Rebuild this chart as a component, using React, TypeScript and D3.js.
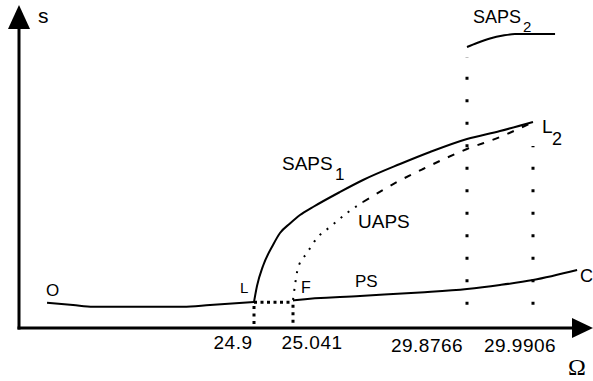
import * as d3 from "d3";

// axis ticks (schematic, non-uniform Ω axis)
const OMEGA_BREAKS = [23.5, 24.9, 25.041, 29.8766, 29.9906, 30.094];
const OMEGA_TICKS = [24.9, 25.041, 29.8766, 29.9906];
const TICK_LABELS = ["24.9", "25.041", "29.8766", "29.9906"];

// branches as [Ω, s]
const PS_LEFT: [number, number][] = [
  [23.667, 0.0783], [23.822, 0.0712], [23.941, 0.0659], [24.221, 0.0659],
  [24.477, 0.0659], [24.638, 0.0712], [24.9, 0.0805],
];
const PS_RIGHT: [number, number][] = [
  [25.041, 0.0851], [25.152, 0.0867], [26.903, 0.0991], [28.571, 0.11],
  [29.8766, 0.1207], [29.9336, 0.1331], [29.9906, 0.1486], [30.0666, 0.1796],
];
const SAPS1: [number, number][] = [
  [24.9, 0.0805], [24.9108, 0.13], [24.9325, 0.192], [24.9687, 0.257],
  [24.994, 0.294], [25.03, 0.3235], [25.2356, 0.3498], [25.597, 0.3746],
  [26.347, 0.4211], [26.987, 0.4582], [28.015, 0.5077], [28.849, 0.5449],
  [29.8766, 0.5851], [29.9336, 0.6099], [29.9906, 0.6378],
];
const UAPS_DOTTED: [number, number][] = [
  [25.041, 0.0867], [25.0966, 0.1331], [25.18, 0.1858], [25.43, 0.2322],
  [25.708, 0.2786], [26.069, 0.3127], [26.542, 0.356], [26.987, 0.3901],
];
const UAPS_DASHED: [number, number][] = [
  [26.987, 0.3901], [27.932, 0.452], [28.654, 0.4923], [29.8766, 0.5542],
  [29.9336, 0.5913], [29.9906, 0.6378],
];
const SAPS2: [number, number][] = [
  [29.8766, 0.87], [29.8939, 0.8824], [29.9163, 0.8963], [29.9388, 0.9056],
  [29.9595, 0.9102], [30.0286, 0.9102],
];
const UNSTABLE_PS: [number, number][] = [[24.9, 0.08], [25.041, 0.08]];
// vertical guide lines: [Ω, sFrom, sTo]
const GUIDES_LONG: [number, number, number][] = [
  [29.8766, 0.072, 0.839],
  [29.9906, 0.072, 0.5635],
];
const GUIDES_SHORT: [number, number, number][] = [
  [24.9, 0.068, 0.0],
  [25.041, 0.072, 0.0],
];

// layout offsets for the tick labels
const TICK_DX = [-21, 19, -40, -13];
const TICK_BASE = [349, 349, 352, 352];

const W = 593;
const H = 381;
const FONT = "'Liberation Sans', Arial, sans-serif";

export default function App() {
  const x = d3
    .scaleLinear()
    .domain(OMEGA_BREAKS)
    .range([19, 254, 293, 467, 533, 593]);
  const y = d3.scaleLinear().domain([0, 1]).range([328, 5]);

  const smooth = d3
    .line<[number, number]>()
    .x((d) => x(d[0]))
    .y((d) => y(d[1]))
    .curve(d3.curveMonotoneX);
  const straight = d3
    .line<[number, number]>()
    .x((d) => x(d[0]))
    .y((d) => y(d[1]));

  const x0 = x.range()[0];
  const xEnd = x.range()[x.range().length - 1];
  const y0 = y(0);
  const yTop = y(1);

  const lbl = (p: [number, number]) => [x(p[0]), y(p[1])];
  const [oX, oY] = lbl(PS_LEFT[0]);
  const [lX, lY] = lbl(SAPS1[0]);
  const [fX, fY] = lbl(UAPS_DOTTED[0]);
  const [cX, cY] = lbl(PS_RIGHT[PS_RIGHT.length - 1]);
  const [l2X, l2Y] = lbl(SAPS1[SAPS1.length - 1]);
  const [s2X, s2Y] = lbl(SAPS2[0]);

  return (
    <svg
      width={W}
      height={H}
      style={{ position: "absolute", left: 0, top: 0, background: "#fff" }}
      fontFamily={FONT}
    >
      {/* axes */}
      <line x1={x0 - 1.5} y1={y0} x2={xEnd - 18} y2={y0} stroke="#000" strokeWidth={3} />
      <path d={`M${xEnd},${y0} L${xEnd - 21},${y0 - 10} L${xEnd - 21},${y0 + 10} Z`} fill="#000" />
      <line x1={x0} y1={y0 + 1.5} x2={x0} y2={yTop + 20} stroke="#000" strokeWidth={3} />
      <path d={`M${x0},${yTop} L${x0 - 11},${yTop + 24} L${x0 + 11},${yTop + 24} Z`} fill="#000" />

      {/* guide lines */}
      {GUIDES_LONG.map(([o, a, b], i) => (
        <line key={"gl" + i} x1={x(o)} x2={x(o)} y1={y(a)} y2={y(b)}
          stroke="#000" strokeWidth={3} strokeDasharray="3 19.5" />
      ))}
      {GUIDES_SHORT.map(([o, a, b], i) => (
        <line key={"gs" + i} x1={x(o)} x2={x(o)} y1={y(a)} y2={y(b)}
          stroke="#000" strokeWidth={3} strokeDasharray="3 4.5" />
      ))}
      <path d={straight(UNSTABLE_PS) ?? ""} fill="none" stroke="#000" strokeWidth={3} strokeDasharray="3 3.5" />

      {/* branches */}
      <path d={smooth(PS_LEFT) ?? ""} fill="none" stroke="#000" strokeWidth={2} />
      <path d={smooth(PS_RIGHT) ?? ""} fill="none" stroke="#000" strokeWidth={2} />
      <path d={smooth(SAPS1) ?? ""} fill="none" stroke="#000" strokeWidth={2} />
      <path d={smooth(UAPS_DOTTED) ?? ""} fill="none" stroke="#000" strokeWidth={2} strokeDasharray="2 7" />
      <path d={smooth(UAPS_DASHED) ?? ""} fill="none" stroke="#000" strokeWidth={2} strokeDasharray="7 9" />
      <path d={smooth(SAPS2) ?? ""} fill="none" stroke="#000" strokeWidth={2} />

      {/* tick labels */}
      {OMEGA_TICKS.map((t, i) => (
        <text key={"t" + i} x={x(t) + TICK_DX[i]} y={TICK_BASE[i]} textAnchor="middle"
          fontSize={19} letterSpacing={0.5} fill="#000">
          {TICK_LABELS[i]}
        </text>
      ))}

      {/* axis titles */}
      <text x={x0 + 19} y={yTop + 18} fontSize={21} fill="#000">s</text>
      <text x={xEnd - 16} y={y0 + 47} fontSize={24} textAnchor="middle"
        fontFamily="'Liberation Serif', 'Times New Roman', serif" fill="#000">Ω</text>

      {/* point / branch labels */}
      <text x={oX - 1} y={oY - 7} fontSize={17} fill="#000">O</text>
      <text x={lX - 14} y={lY - 9} fontSize={15} fill="#000">L</text>
      <text x={fX + 8} y={fY - 7} fontSize={16} fill="#000">F</text>
      <text x={cX + 3} y={cY + 12} fontSize={18} fill="#000">C</text>
      <text x={355} y={287} fontSize={17} fill="#000">PS</text>
      <text x={282} y={170} fontSize={19} fill="#000">SAPS</text>
      <text x={335} y={180} fontSize={17} fill="#000">1</text>
      <text x={358} y={228} fontSize={19} fill="#000">UAPS</text>
      <text x={s2X + 6} y={s2Y - 24} fontSize={18} fill="#000">SAPS</text>
      <text x={s2X + 56} y={s2Y - 15} fontSize={15} fill="#000">2</text>
      <text x={l2X + 9} y={l2Y + 11} fontSize={19} fill="#000">L</text>
      <text x={l2X + 19} y={l2Y + 23} fontSize={18} fill="#000">2</text>
    </svg>
  );
}
